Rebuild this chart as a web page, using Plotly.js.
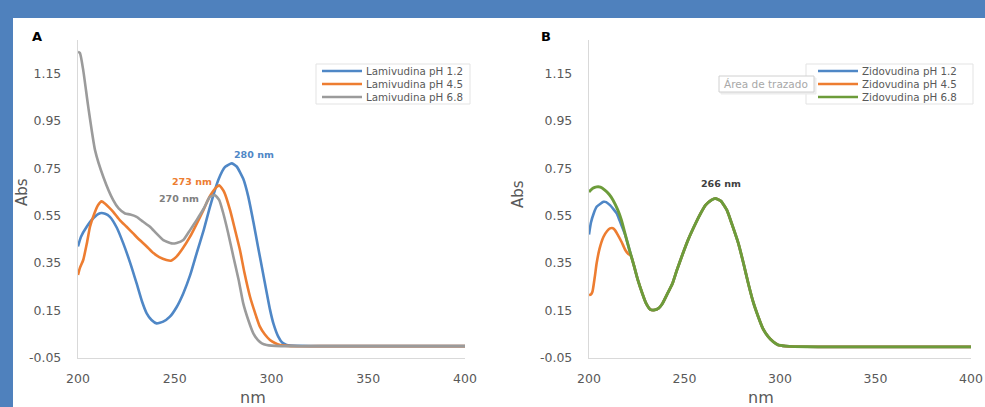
<!DOCTYPE html>
<html>
<head>
<meta charset="utf-8">
<script src="https://cdn.plot.ly/plotly-3.0.1.min.js"></script>
<style>
  html, body { margin:0; padding:0; width:985px; height:407px; overflow:hidden; background:#4f81bd; }
  #chart { position:absolute; left:13px; top:18px; width:972px; height:389px; overflow:hidden; background:#fff; }
</style>
</head>
<body>
<div id="chart"></div>
<script>
// ---------- DATA ----------
// Panel A: Lamivudina
const lamNm12 = [200, 201.5, 204.5, 208, 211.4, 214, 216.5, 220, 223.4, 227, 230.3, 233, 235.5, 238, 240.6, 244, 247.5, 251, 254.4, 258, 261.3, 265, 268.2, 272.5, 276, 279.4, 282, 285.4, 288, 290.6, 293, 295.8, 299.2, 301, 303.5, 305.5, 307.8, 310, 320, 340, 360, 380, 400];
const lamAbs12 = [0.42, 0.46, 0.503, 0.54, 0.56, 0.558, 0.545, 0.50, 0.433, 0.35, 0.264, 0.19, 0.138, 0.11, 0.096, 0.103, 0.124, 0.165, 0.222, 0.30, 0.391, 0.49, 0.587, 0.70, 0.755, 0.77, 0.757, 0.705, 0.63, 0.525, 0.42, 0.30, 0.155, 0.095, 0.04, 0.015, 0.005, 0.002, 0.0, 0.0, 0.0, 0.0, 0.0];

const lamNm45 = [200, 201, 202.7, 204.5, 206.2, 208.5, 210.4, 212.2, 213.9, 216, 218.2, 221.7, 225.1, 228.5, 231.9, 235.5, 238.8, 242, 245.7, 248, 250.9, 254, 257.9, 261, 264.8, 268, 271.7, 273, 275.5, 278.6, 281, 283.7, 286, 288.9, 291.5, 294, 296.5, 299.2, 302, 304.4, 307, 310, 330, 360, 400];
const lamAbs45 = [0.30, 0.33, 0.363, 0.43, 0.503, 0.56, 0.595, 0.61, 0.601, 0.585, 0.566, 0.53, 0.503, 0.475, 0.447, 0.42, 0.393, 0.375, 0.363, 0.36, 0.377, 0.41, 0.461, 0.51, 0.573, 0.63, 0.671, 0.678, 0.65, 0.573, 0.495, 0.405, 0.31, 0.208, 0.14, 0.082, 0.05, 0.026, 0.012, 0.005, 0.002, 0.0, 0.0, 0.0, 0.0];

const lamNm68 = [200, 201, 202.7, 205.3, 208.8, 213.1, 218.2, 221, 224.3, 227, 230.3, 233.5, 237.2, 240.5, 244.1, 248.4, 251, 254.4, 258, 261.3, 265, 268.2, 270.8, 273, 275.1, 277.5, 280.3, 283, 285.4, 288, 290.6, 293, 295, 297.5, 300, 305, 320, 360, 400];
const lamAbs68 = [1.24, 1.235, 1.163, 1.008, 0.826, 0.713, 0.615, 0.58, 0.559, 0.555, 0.545, 0.525, 0.503, 0.475, 0.447, 0.433, 0.435, 0.447, 0.49, 0.531, 0.58, 0.629, 0.636, 0.615, 0.559, 0.48, 0.377, 0.28, 0.18, 0.11, 0.054, 0.025, 0.012, 0.005, 0.002, 0.0, 0.0, 0.0, 0.0];

// Panel B: Zidovudina
const zidNm68 = [200, 202, 204, 206, 208.3, 210.5, 212.6, 215, 217, 219, 221.2, 223.5, 225.6, 228, 229.9, 232, 234.2, 236.5, 238.5, 241, 243.7, 246, 248.9, 252, 255.8, 258.5, 261, 264, 266.2, 269, 272.2, 275, 278.2, 281, 283.4, 286, 288.6, 291, 293.8, 296.5, 299, 303, 307.6, 320, 350, 380, 400];
const zidAbs68 = [0.65, 0.665, 0.671, 0.67, 0.657, 0.64, 0.615, 0.575, 0.531, 0.47, 0.405, 0.34, 0.278, 0.22, 0.18, 0.155, 0.152, 0.16, 0.18, 0.22, 0.264, 0.32, 0.385, 0.45, 0.517, 0.56, 0.594, 0.615, 0.622, 0.612, 0.573, 0.51, 0.433, 0.345, 0.264, 0.185, 0.124, 0.075, 0.04, 0.018, 0.005, 0.0, -0.002, -0.003, -0.003, -0.003, -0.003];

const zidNm12 = [200, 201, 202.5, 204, 206, 207.6, 209, 211, 213, 214.5, 216, 218, 219, 221.2, 223.5, 225.6, 228, 229.9, 232, 234.2, 236.5, 238.5, 241, 243.7, 246, 248.9, 252, 255.8, 258.5, 261, 264, 266.2, 269, 272.2, 275, 278.2, 281, 283.4, 286, 288.6, 291, 293.8, 296.5, 299, 303, 307.6, 320, 350, 380, 400];
const zidAbs12 = [0.47, 0.52, 0.56, 0.587, 0.60, 0.608, 0.607, 0.594, 0.575, 0.559, 0.53, 0.489, 0.468, 0.405, 0.34, 0.278, 0.22, 0.18, 0.155, 0.152, 0.16, 0.18, 0.22, 0.264, 0.32, 0.385, 0.45, 0.517, 0.56, 0.594, 0.615, 0.622, 0.612, 0.573, 0.51, 0.433, 0.345, 0.264, 0.185, 0.124, 0.075, 0.04, 0.018, 0.005, 0.0, -0.002, -0.003, -0.003, -0.003, -0.003];

const zidNm45 = [200, 201, 201.8, 203, 204, 205.5, 207.6, 209.5, 211, 212.5, 213.6, 215, 217, 219, 220.4, 222, 223.5, 225.6, 228, 229.9, 232, 234.2, 236.5, 238.5, 241, 243.7, 246, 248.9, 252, 255.8, 258.5, 261, 264, 266.2, 269, 272.2, 275, 278.2, 281, 283.4, 286, 288.6, 291, 293.8, 296.5, 299, 303, 307.6, 320, 350, 380, 400];
const zidAbs45 = [0.215, 0.218, 0.229, 0.29, 0.349, 0.41, 0.461, 0.485, 0.496, 0.497, 0.489, 0.47, 0.44, 0.405, 0.39, 0.38, 0.34, 0.278, 0.22, 0.18, 0.155, 0.152, 0.16, 0.18, 0.22, 0.264, 0.32, 0.385, 0.45, 0.517, 0.56, 0.594, 0.615, 0.622, 0.612, 0.573, 0.51, 0.433, 0.345, 0.264, 0.185, 0.124, 0.075, 0.04, 0.018, 0.005, 0.0, -0.002, -0.003, -0.003, -0.003, -0.003];

const seriesNamesA = ["Lamivudina pH 1.2", "Lamivudina pH 4.5", "Lamivudina pH 6.8"];
const seriesNamesB = ["Zidovudina pH 1.2", "Zidovudina pH 4.5", "Zidovudina pH 6.8"];
const yTickVals = [-0.05, 0.15, 0.35, 0.55, 0.75, 0.95, 1.15];
const yTickText = ["-0.05", "0.15", "0.35", "0.55", "0.75", "0.95", "1.15"];
const xTickVals = [200, 250, 300, 350, 400];
const xTickText = ["200", "250", "300", "350", "400"];
const peakLabelsA = ["280 nm", "273 nm", "270 nm"];
const peakLabelB = "266 nm";

// ---------- STYLE ----------
const cBlue = "#4f87c6", cOrange = "#ed7d31", cGray = "#9b9b9b", cGreen = "#6c9c3a";
const W = 972, H = 389, OX = 13, OY = 18;
const px = p => (p - OX) / W;          // page px -> paper x
const py = p => 1 - (p - OY) / H;      // page py -> paper y
const FONT = "DejaVu Sans";

function tr(x, y, name, color, xa, ya, w) {
  return { x: x, y: y, name: name, type: "scatter", mode: "lines", xaxis: xa, yaxis: ya,
           line: { color: color, width: w || 2.6, shape: "spline", smoothing: 0.5 },
           showlegend: false, hoverinfo: "skip" };
}

const data = [
  tr(lamNm12, lamAbs12, seriesNamesA[0], cBlue, "x", "y"),
  tr(lamNm45, lamAbs45, seriesNamesA[1], cOrange, "x", "y"),
  tr(lamNm68, lamAbs68, seriesNamesA[2], cGray, "x", "y"),
  tr(zidNm12, zidAbs12, seriesNamesB[0], cBlue, "x2", "y2"),
  tr(zidNm45, zidAbs45, seriesNamesB[1], cOrange, "x2", "y2"),
  tr(zidNm68, zidAbs68, seriesNamesB[2], cGreen, "x2", "y2", 2.9)
];

const yDom = [py(358), py(40)];
function xax(dom) {
  return { domain: dom, range: [200, 400], showgrid: false, zeroline: false, showline: true,
           linecolor: "#d9d9d9", linewidth: 1.2, ticks: "", tickvals: xTickVals, ticktext: xTickText,
           tickfont: { family: FONT, size: 12.5, color: "#595959" }, ticklabelstandoff: 9,
           ticklabeloverflow: "allow", fixedrange: true };
}
function yax(dom, anchor) {
  return { domain: dom, anchor: anchor, range: [-0.05, 1.29], showgrid: false, zeroline: false, showline: true,
           linecolor: "#d9d9d9", linewidth: 1.2, ticks: "", tickvals: yTickVals, ticktext: yTickText,
           tickfont: { family: FONT, size: 12.5, color: "#595959" }, ticklabelstandoff: 13, fixedrange: true };
}

const ann = [];
function txt(t, x, y, opts) {
  ann.push(Object.assign({ text: t, x: px(x), y: py(y), xref: "paper", yref: "paper", showarrow: false,
    xanchor: "center", yanchor: "middle", font: { family: FONT, size: 10, color: "#595959" } }, opts || {}));
}
// panel letters
txt("<b>A</b>", 37, 36, { font: { family: FONT, size: 13, color: "#000" } });
txt("<b>B</b>", 546, 36, { font: { family: FONT, size: 13, color: "#000" } });
// axis titles
txt("Abs", 22, 192, { textangle: -90, font: { family: FONT, size: 15, color: "#595959" } });
txt("Abs", 518, 194, { textangle: -90, font: { family: FONT, size: 15, color: "#595959" } });
txt("nm", 253, 397, { font: { family: FONT, size: 16, color: "#595959" } });
txt("nm", 761, 397, { font: { family: FONT, size: 16, color: "#595959" } });
// peak labels
txt("<b>" + peakLabelsA[0] + "</b>", 254, 154, { font: { family: FONT, size: 9.5, color: cBlue } });
txt("<b>" + peakLabelsA[1] + "</b>", 192, 181, { font: { family: FONT, size: 9.5, color: cOrange } });
txt("<b>" + peakLabelsA[2] + "</b>", 179, 198, { font: { family: FONT, size: 9.5, color: "#7f7f7f" } });
txt("<b>" + peakLabelB + "</b>", 721, 183, { font: { family: FONT, size: 9.5, color: "#404040" } });

const shapes = [];
// legend boxes
shapes.push({ type: "rect", xref: "paper", yref: "paper", x0: px(316), x1: px(470), y0: py(64), y1: py(104),
  line: { color: "#e3e3e3", width: 1 }, fillcolor: "rgba(255,255,255,0)" });
shapes.push({ type: "rect", xref: "paper", yref: "paper", x0: px(806), x1: px(973), y0: py(64), y1: py(104),
  line: { color: "#e3e3e3", width: 1 }, fillcolor: "rgba(255,255,255,0)" });
const legRows = [71, 84, 97];
const colsA = [cBlue, cOrange, cGray], colsB = [cBlue, cOrange, cGreen];
legRows.forEach((r, i) => {
  shapes.push({ type: "line", xref: "paper", yref: "paper", x0: px(322), x1: px(362), y0: py(r), y1: py(r),
    line: { color: colsA[i], width: 2.4 } });
  txt(seriesNamesA[i], 364, r, { xanchor: "left", font: { family: FONT, size: 10.3, color: "#595959" } });
  shapes.push({ type: "line", xref: "paper", yref: "paper", x0: px(818), x1: px(858), y0: py(r), y1: py(r),
    line: { color: colsB[i], width: 2.4 } });
  txt(seriesNamesB[i], 860, r, { xanchor: "left", font: { family: FONT, size: 10.3, color: "#595959" } });
});
// tooltip "Área de trazado"
shapes.push({ type: "rect", xref: "paper", yref: "paper", x0: px(721), x1: px(816), y0: py(78), y1: py(94),
  line: { color: "#ebebeb", width: 1 }, fillcolor: "#f0f0f0", layer: "above" });
shapes.push({ type: "rect", xref: "paper", yref: "paper", x0: px(719), x1: px(814), y0: py(76), y1: py(92),
  line: { color: "#d0d0d0", width: 1 }, fillcolor: "#ffffff", layer: "above" });
txt("Área de trazado", 766, 84, { font: { family: FONT, size: 10.5, color: "#a8a8a8" } });

const layout = {
  width: W, height: H, margin: { l: 0, r: 0, t: 0, b: 0 },
  paper_bgcolor: "#ffffff", plot_bgcolor: "#ffffff",
  showlegend: false,
  xaxis: xax([px(78), px(465)]),
  yaxis: yax(yDom, "x"),
  xaxis2: Object.assign(xax([px(589), px(971)]), { anchor: "y2" }),
  yaxis2: yax(yDom, "x2"),
  annotations: ann, shapes: shapes
};
layout.xaxis.anchor = "y";

Plotly.newPlot("chart", data, layout, { displayModeBar: false, staticPlot: true });
</script>
</body>
</html>
